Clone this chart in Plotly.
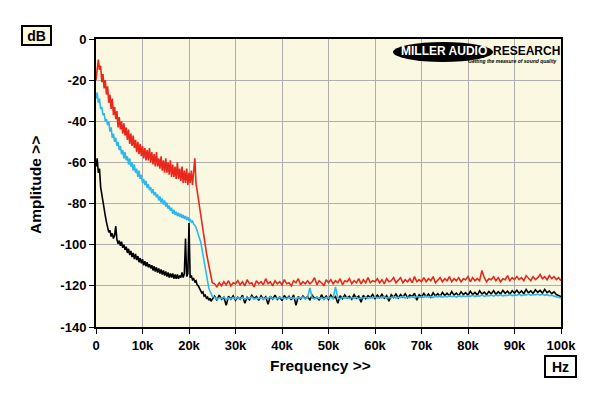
import numpy as np
import plotly.graph_objects as go

# ---------------- data ----------------
freq_low = np.arange(0, 25001, 250)        # 0 .. 25 kHz, 250 Hz steps
freq_high = np.arange(25500, 100001, 500)  # 25.5 .. 100 kHz, 500 Hz steps
freq_hz = np.concatenate([freq_low, freq_high])

red_low = [
    -20, -14, -10, -15, -13, -21, -17, -24, -20, -27,
    -23, -31, -27, -34, -29, -37, -33, -39, -35, -43,
    -38, -44, -40, -46, -41, -47, -43, -49, -44, -51,
    -46, -52, -47, -53, -49, -55, -50, -56, -51, -57,
    -52, -58, -53, -59, -54, -59, -53, -60, -55, -61,
    -56, -62, -55, -62, -58, -63, -57, -64, -59, -65,
    -58, -65, -60, -66, -59, -67, -61, -67, -62, -68,
    -60, -68, -63, -69, -62, -70, -64, -70, -63, -71,
    -65, -70, -64, -71, -66, -58, -70, -74, -78, -82,
    -86, -90, -93, -97, -100, -104, -107, -110, -113, -116,
    -118.5,
]
red_high = [
    -119, -120.5, -118.5, -120, -118, -119.5, -117.5, -120, -118.5, -119,
    -117.5, -119.5, -118, -120, -117, -119, -118.5, -120.5, -117.5, -119,
    -118, -119.5, -116.5, -119, -118, -120, -117.5, -119, -118, -119.5,
    -117, -119, -118.5, -120, -117.5, -118.5, -116.5, -119.5, -118, -119,
    -117.5, -119, -118, -116, -119.5, -117.5, -118.5, -120, -117, -118.5,
    -117, -119, -117.5, -118.5, -116.5, -119.5, -117.5, -118, -116.5, -119,
    -117.5, -118.5, -116.5, -119, -117, -118.5, -116, -118.5, -117.5, -118,
    -116.5, -118.5, -117, -119, -116.5, -118, -117.5, -116, -118.5, -117,
    -116, -118.5, -117, -118, -116.5, -118.5, -115.5, -118, -117, -118,
    -116, -118, -116.5, -117.5, -115.5, -118.5, -117, -116, -118, -116.5,
    -117.5, -115.5, -118, -116.5, -117.5, -116, -118, -116.5, -117, -115.5,
    -118, -116, -117.5, -116.5, -117.5, -112.5, -116, -118, -116.5, -117,
    -115.5, -117.5, -116, -118, -116.5, -117, -115, -117.5, -116, -117,
    -115.5, -117, -116, -117.5, -115, -116.5, -117.5, -115.5, -117, -116,
    -114.5, -116.5, -115.5, -117, -115, -116.5, -115.5, -117, -116, -117.5,
]

blue_low = [
    -29, -26, -31, -29, -34, -33, -37, -36, -40, -39,
    -42, -40, -45, -43, -48, -46, -50, -48, -52, -50,
    -54, -52, -56, -54, -58, -55, -59, -57, -61, -58,
    -62, -60, -64, -61, -65, -63, -67, -64, -68, -66,
    -70, -68, -71, -69, -72.5, -70.5, -73.5, -72, -75, -73,
    -76, -74.5, -77, -75.5, -78.5, -76.5, -79.5, -77.5, -80.5, -78.5,
    -81.5, -79.5, -82.5, -81, -83.5, -82, -85, -83, -85.5, -84,
    -86, -84.5, -86.5, -85, -87, -85.5, -87.5, -86, -88, -86.5,
    -88.5, -87.5, -89, -88.5, -90, -90.5, -91.5, -93, -94.5, -96,
    -98.5, -101.5, -105, -108.5, -112, -115.5, -118.5, -121, -122.5, -124,
    -125,
]
blue_high = [
    -125.5, -126.5, -125.8, -126.2, -125.4, -126.6, -125.9, -126.3, -125.6, -126.4,
    -125.7, -126.3, -125.5, -126.5, -125.8, -126.1, -125.4, -126.4, -125.9, -126.2,
    -125.6, -126.4, -125.8, -126, -125.3, -126.3, -125.7, -126.2, -125.5, -126.1,
    -125.8, -126.3, -125.5, -126.1, -125.7, -126.4, -125.6, -126, -125.4, -126.2,
    -125.7, -121, -125.9, -126.3, -125.5, -126.1, -125.8, -126.4, -125.6, -126,
    -125.5, -126.2, -120.5, -125.8, -126.3, -125.6, -126, -125.4, -126.2, -125.7,
    -126.1, -125.5, -126.3, -125.7, -126, -125.4, -126.2, -125.6, -125.9, -125.3,
    -126, -125.5, -125.9, -125.2, -126.1, -125.6, -125.8, -125.3, -126, -125.5,
    -125.7, -125.1, -125.9, -125.4, -125.7, -125.2, -125.8, -125, -125.6, -125.3,
    -125.6, -124.9, -125.5, -125.2, -125.7, -125, -125.4, -124.8, -125.5, -125.1,
    -125.4, -124.8, -125.3, -125, -125.5, -124.7, -125.2, -124.9, -125.3, -124.8,
    -125.1, -124.6, -125.2, -124.8, -125, -124.5, -125.1, -124.7, -124.9, -124.4,
    -125, -124.5, -124.8, -124.3, -124.9, -124.6, -124.7, -124.2, -124.8, -124.4,
    -124.6, -124.1, -124.7, -124.3, -124.5, -123.9, -124.6, -124.2, -124.4, -124,
    -124.5, -124.1, -124.6, -124.3, -124.8, -124.5, -125, -125.3, -125.6, -125.9,
]

black_low = [
    -62, -58, -65, -63, -72, -76, -80, -83, -86, -89,
    -92, -94, -93, -96, -94.5, -97, -95.5, -91, -97.5, -99.5,
    -98, -100.5, -98.5, -101.5, -100, -102.5, -101, -104, -102, -105,
    -103, -106, -104, -107, -104.5, -107.5, -105.5, -108.5, -106.5, -109,
    -107, -110, -108, -110.5, -108.5, -111, -109.5, -111.5, -110, -112.5,
    -110.5, -113, -111, -113.5, -111.5, -114, -112, -114.5, -112.5, -115,
    -113, -115.5, -113.5, -116, -114, -116, -114, -116.5, -114.5, -116.5,
    -114.5, -116.5, -115, -116, -113.5, -116, -114, -97, -115.5, -114,
    -89.5, -116, -115, -117, -116.5, -118, -117.5, -119.5, -120, -121.5,
    -122, -123.5, -123, -125, -124.5, -126, -125.5, -127, -126, -127.5,
    -126.5,
]
black_high = [
    -125, -127, -124.5, -126.5, -125.5, -129.5, -125, -126.5, -124.8, -127,
    -125.5, -126.5, -124.5, -128.5, -125.5, -126.8, -124.6, -126.2, -125.2, -127,
    -124.8, -126.5, -125.3, -129, -125, -126.4, -124.5, -126.6, -125.4, -127.2,
    -124.7, -126.3, -125.1, -126.8, -124.4, -129.5, -125.2, -126.5, -124.9, -126.2,
    -125.3, -126.8, -124.6, -126.1, -125.5, -127, -124.3, -126.4, -125, -126.6,
    -124.5, -126.1, -125.2, -128.5, -124.8, -126.3, -124.4, -125.9, -125.1, -126.5,
    -124.3, -126, -125, -128, -124.6, -126.2, -124.8, -125.7, -124.2, -126.1,
    -124.5, -125.8, -124.1, -126, -124.7, -127.5, -124.3, -125.6, -124, -125.9,
    -124.2, -125.5, -123.8, -125.7, -124.5, -125.2, -123.6, -127, -124.3, -125.4,
    -123.7, -125.2, -124, -125.5, -123.4, -124.9, -123.8, -125.1, -123.2, -124.7,
    -123.6, -124.9, -122.8, -124.5, -123.5, -124.8, -122.9, -124.3, -123.3, -124.6,
    -122.6, -124.2, -123.2, -124.5, -122.4, -124, -123, -124.3, -122.7, -123.9,
    -122.3, -124.1, -122.8, -123.9, -122.2, -123.6, -122.6, -124, -122.4, -123.5,
    -122.1, -123.6, -122.5, -123.8, -121.8, -123.4, -122.4, -123.7, -121.9, -123.2,
    -122.2, -123.5, -121.7, -123.3, -122.5, -123.8, -122.9, -124.2, -124.6, -125.2,
]

red_db = red_low + red_high
blue_db = blue_low + blue_high
black_db = black_low + black_high

x_tick_vals = [0, 10000, 20000, 30000, 40000, 50000, 60000, 70000, 80000, 90000, 100000]
x_tick_text = ["0", "10k", "20k", "30k", "40k", "50k", "60k", "70k", "80k", "90k", "100k"]
y_tick_vals = [0, -20, -40, -60, -80, -100, -120, -140]
y_tick_text = ["0", "-20", "-40", "-60", "-80", "-100", "-120", "-140"]

# ---------------- layout helpers ----------------
W, H = 600, 396
ML, MR, MT, MB = 96, 39, 39, 69
PW, PH = W - ML - MR, H - MT - MB


def px_x(px):
    return (px - ML) / PW


def px_y(py):
    return (H - MB - py) / PH


FONT = "Liberation Sans, Arial, Helvetica, sans-serif"

fig = go.Figure()
fig.add_trace(go.Scatter(x=freq_hz, y=black_db, mode="lines",
                         line=dict(color="#000000", width=1.6), name="black"))
fig.add_trace(go.Scatter(x=freq_hz, y=blue_db, mode="lines",
                         line=dict(color="#2DB7EA", width=1.6), name="blue"))
fig.add_trace(go.Scatter(x=freq_hz, y=red_db, mode="lines",
                         line=dict(color="#E8281C", width=1.6), name="red"))

axis_common = dict(
    showgrid=True, gridcolor="#AEAEAE", gridwidth=1.2,
    showline=True, linecolor="#000000", linewidth=2, mirror=True,
    ticks="outside", ticklen=5, tickwidth=1, tickcolor="#000000",
    tickfont=dict(family=FONT, size=13, color="#000000", weight="bold"),
    zeroline=False, fixedrange=True,
)

fig.update_layout(
    width=W, height=H,
    margin=dict(l=ML, r=MR, t=MT, b=MB, pad=0),
    paper_bgcolor="#FFFFFF",
    plot_bgcolor="#FBF8E1",
    showlegend=False,
    xaxis=dict(range=[0, 100000], tickmode="array", tickvals=x_tick_vals,
               ticktext=x_tick_text, **axis_common),
    yaxis=dict(range=[-140, 0], tickmode="array", tickvals=y_tick_vals,
               ticktext=y_tick_text, **axis_common),
)

# logo ellipse
fig.add_shape(type="circle", xref="paper", yref="paper",
              x0=px_x(393), x1=px_x(493), y0=px_y(62), y1=px_y(42),
              fillcolor="#000000", line=dict(width=0), layer="above")

annotations = [
    dict(text="MILLER AUDIO", x=px_x(444), y=px_y(50.5), xanchor="center", yanchor="middle",
         font=dict(family=FONT, size=12, color="#FFFFFF", weight="bold")),
    dict(text="RESEARCH", x=px_x(491), y=px_y(50.5), xanchor="left", yanchor="middle",
         font=dict(family=FONT, size=12, color="#000000", weight="bold")),
    dict(text="<i>Getting the measure of sound quality</i>", x=px_x(559), y=px_y(60.5),
         xanchor="right", yanchor="middle",
         font=dict(family=FONT, size=5, color="#000000", weight="bold")),
    dict(text="Frequency >>", x=px_x(320), y=px_y(365), xanchor="center", yanchor="middle",
         font=dict(family=FONT, size=15.5, color="#000000", weight="bold")),
    dict(text="Amplitude >>", x=px_x(35), y=px_y(185), xanchor="center", yanchor="middle",
         textangle=-90,
         font=dict(family=FONT, size=15.5, color="#000000", weight="bold")),
    dict(text="dB", x=px_x(37), y=px_y(35), xanchor="center", yanchor="middle",
         bgcolor="#FCF9DE", bordercolor="#000000", borderwidth=2, borderpad=1,
         width=25, height=15,
         font=dict(family=FONT, size=14, color="#000000", weight="bold")),
    dict(text="Hz", x=px_x(560), y=px_y(366.5), xanchor="center", yanchor="middle",
         bgcolor="#FFFFFF", bordercolor="#000000", borderwidth=2, borderpad=1,
         width=27, height=17,
         font=dict(family=FONT, size=14, color="#000000", weight="bold")),
]
for a in annotations:
    a.update(xref="paper", yref="paper", showarrow=False)
    fig.add_annotation(**a)

# remove the default 8px page margin so the figure sits at the window origin
fig.write_html("out.html", config={"displayModeBar": False},
               post_script="document.body.style.margin='0px';")
